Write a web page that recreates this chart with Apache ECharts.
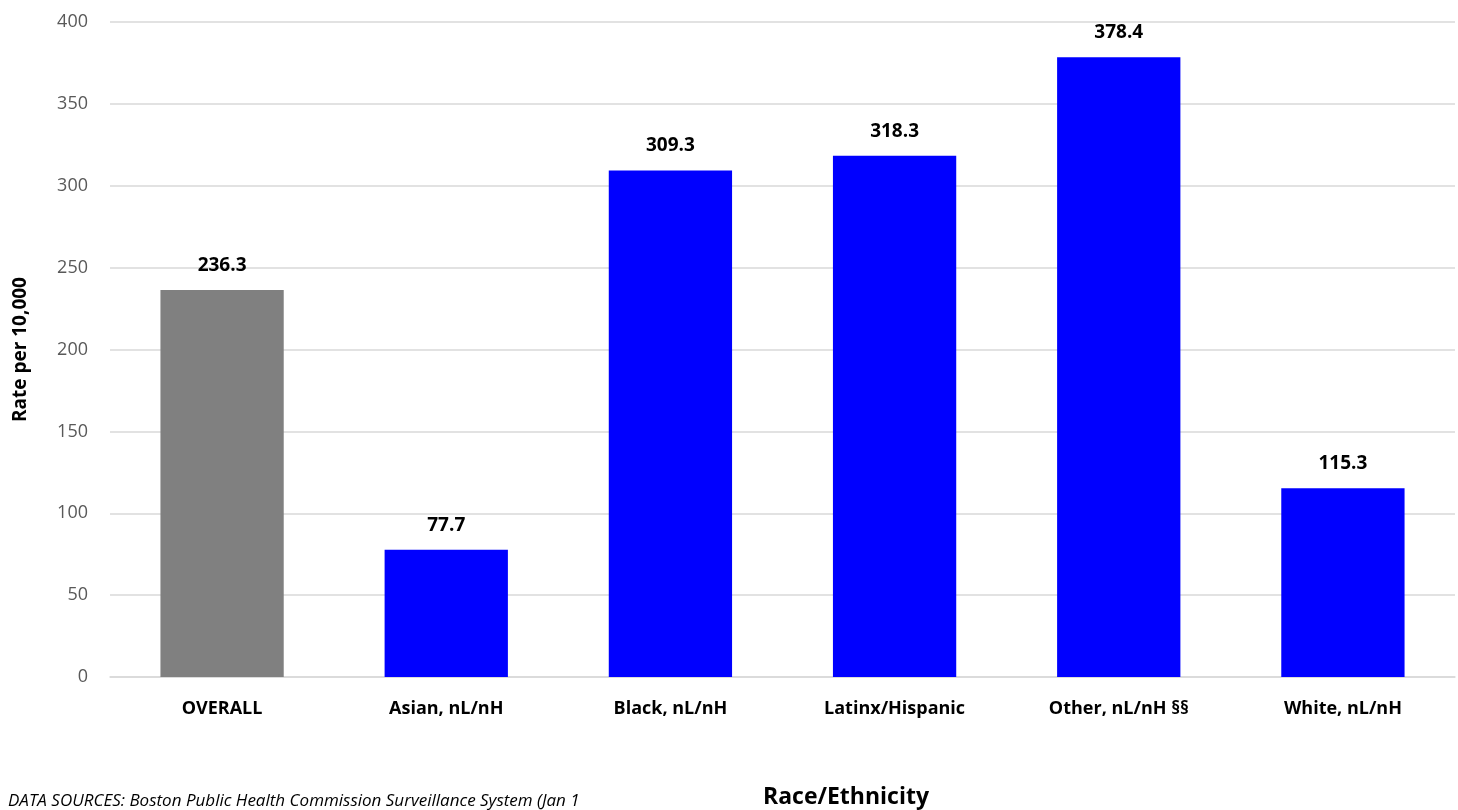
<!DOCTYPE html>
<html><head><meta charset="utf-8">
<script src="https://cdn.jsdelivr.net/npm/echarts@6/dist/echarts.min.js"></script>
<style>html,body{margin:0;padding:0;background:#fff}#c{width:1458px;height:810px}</style>
</head><body><div id="c"></div>
<script>
const categories = ['OVERALL','Asian, nL/nH','Black, nL/nH','Latinx/Hispanic','Other, nL/nH §§','White, nL/nH'];
const rates = [236.3, 77.7, 309.3, 318.3, 378.4, 115.3];
const barColors = ['#808080','#0000FF','#0000FF','#0000FF','#0000FF','#0000FF'];
const yTicks = [0, 50, 100, 150, 200, 250, 300, 350, 400];
const F = '"Open Sans", "Noto Sans", sans-serif';
const chart = echarts.init(document.getElementById('c'));
chart.setOption({
  animation: false,
  grid: {left: 110, right: 3, top: 22, bottom: 133},
  xAxis: {
    type: 'category', data: categories,
    axisLine: {lineStyle: {color: '#d9d9d9', width: 1.5}},
    axisTick: {show: false},
    axisLabel: {color: '#000', fontWeight: 'bold', fontSize: 18, fontFamily: F, margin: 23}
  },
  yAxis: {
    type: 'value', min: yTicks[0], max: yTicks[yTicks.length-1], interval: 50,
    axisLine: {show: false}, axisTick: {show: false},
    splitLine: {lineStyle: {color: '#d9d9d9', width: 1.5}},
    axisLabel: {color: '#595959', fontSize: 18, fontFamily: F, margin: 22},
    name: 'Rate per 10,000', nameLocation: 'middle', nameGap: 80,
    nameTextStyle: {color: '#000', fontWeight: 'bold', fontSize: 19, fontFamily: F}
  },
  series: [{
    type: 'bar', barWidth: '55%',
    data: rates.map((v, i) => ({value: v, itemStyle: {color: barColors[i]}})),
    label: {show: true, position: 'top', distance: 15, color: '#000', fontWeight: 'bold', fontSize: 19, fontFamily: F,
      formatter: p => p.value.toFixed(1)}
  }],
  graphic: [{
    type: 'text', left: 8, top: 793,
    style: {text: 'DATA SOURCES: Boston Public Health Commission Surveillance System (Jan 1', fill: '#000', font: 'italic 17px "Open Sans", sans-serif'}
  }, {
    type: 'text', x: 846, y: 797,
    style: {text: 'Race/Ethnicity', fill: '#000', align: 'center', verticalAlign: 'middle', font: 'bold 23px "Open Sans", sans-serif'}
  }]
});
</script></body></html>
